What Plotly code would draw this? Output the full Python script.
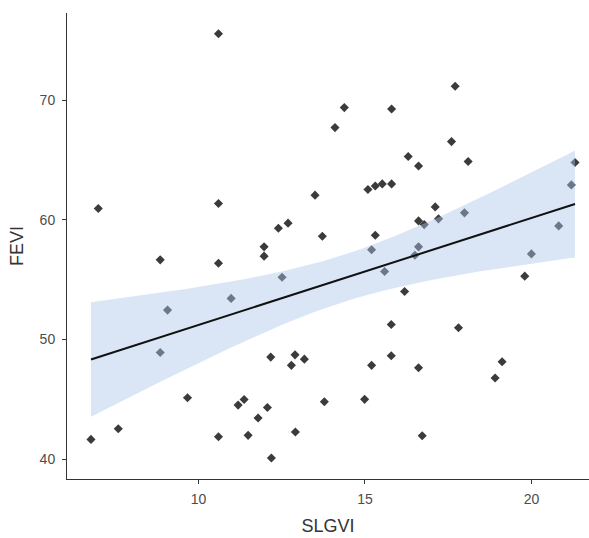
import numpy as np
import plotly.graph_objects as go

# Data
slgvi = [10.60, 6.99, 10.60, 13.50, 12.40, 12.69, 13.72, 11.97, 17.71, 14.38,
         15.80, 14.10, 17.60, 16.30, 16.61, 18.10, 21.31, 21.20, 15.09, 15.31,
         15.52, 15.80, 17.11, 17.99, 16.61, 16.78, 17.21, 20.82, 15.31, 15.20,
         16.61, 8.85, 10.60, 11.97, 9.07, 10.98, 12.51, 8.85, 12.17, 12.90,
         12.79, 13.18, 9.67, 13.78, 11.19, 11.37, 12.07, 11.79, 7.59, 6.77,
         10.60, 11.49, 12.91, 12.19, 16.50, 15.59, 20.00, 19.80, 16.19, 15.79,
         17.81, 15.20, 15.79, 16.61, 19.12, 18.91, 14.99, 16.72]
fevi = [75.56, 60.94, 61.36, 62.06, 59.30, 59.72, 58.63, 57.74, 71.16, 69.38,
        69.27, 67.71, 66.54, 65.29, 64.50, 64.87, 64.79, 62.92, 62.53, 62.83,
        63.00, 63.00, 61.08, 60.58, 59.91, 59.60, 60.08, 59.49, 58.71, 57.50,
        57.74, 56.65, 56.37, 56.96, 52.45, 53.43, 55.20, 48.91, 48.52, 48.71,
        47.83, 48.35, 45.12, 44.79, 44.51, 44.98, 44.31, 43.43, 42.53, 41.64,
        41.86, 41.98, 42.26, 40.08, 57.04, 55.68, 57.15, 55.29, 54.01, 51.25,
        50.97, 47.83, 48.63, 47.63, 48.13, 46.77, 44.99, 41.95]

x_ticks = [10, 15, 20]
y_ticks = [40, 50, 60, 70]

x = np.array(slgvi)
y = np.array(fevi)
n = len(x)

# Linear fit with 95% confidence band (like geom_smooth(method="lm"))
b1, b0 = np.polyfit(x, y, 1)
resid = y - (b0 + b1 * x)
s = np.sqrt(np.sum(resid ** 2) / (n - 2))
xbar = x.mean()
sxx = np.sum((x - xbar) ** 2)
t975 = 1.997  # t quantile, df = n - 2
xs = np.linspace(x.min(), x.max(), 80)
fit = b0 + b1 * xs
se = s * np.sqrt(1.0 / n + (xs - xbar) ** 2 / sxx)
upper = fit + t975 * se
lower = fit - t975 * se

fig = go.Figure()
fig.add_trace(go.Scatter(
    x=slgvi, y=fevi, mode="markers",
    marker=dict(symbol="diamond", size=7, color="#3b3b3b", line=dict(width=0)),
    showlegend=False, hoverinfo="x+y"))
fig.add_trace(go.Scatter(
    x=np.concatenate([xs, xs[::-1]]), y=np.concatenate([upper, lower[::-1]]),
    fill="toself", fillcolor="rgba(170,198,232,0.44)", mode="lines",
    line=dict(width=0), showlegend=False, hoverinfo="skip"))
fig.add_trace(go.Scatter(
    x=xs, y=fit, mode="lines", line=dict(color="#111111", width=2),
    showlegend=False, hoverinfo="skip"))

axis_common = dict(
    showgrid=False, zeroline=False, showline=True, linecolor="#333333",
    linewidth=1, ticks="outside", ticklen=4, tickcolor="#333333", tickwidth=1,
    tickfont=dict(family="Liberation Sans, Arial", size=14, color="#4d4d4d"),
    title_font=dict(family="Liberation Sans, Arial", size=18, color="#333333"),
)

fig.update_layout(
    width=589, height=538,
    margin=dict(l=67, r=0, t=13, b=59),
    plot_bgcolor="white", paper_bgcolor="white",
    xaxis=dict(range=[6.05, 21.73], tickvals=x_ticks, ticklabelstandoff=3,
               title=dict(text="SLGVI", standoff=13), **axis_common),
    yaxis=dict(range=[38.33, 77.29], tickvals=y_ticks, ticklabelstandoff=4,
               title=dict(text="FEVI", standoff=11), **axis_common),
)

fig.write_html("out.html")
